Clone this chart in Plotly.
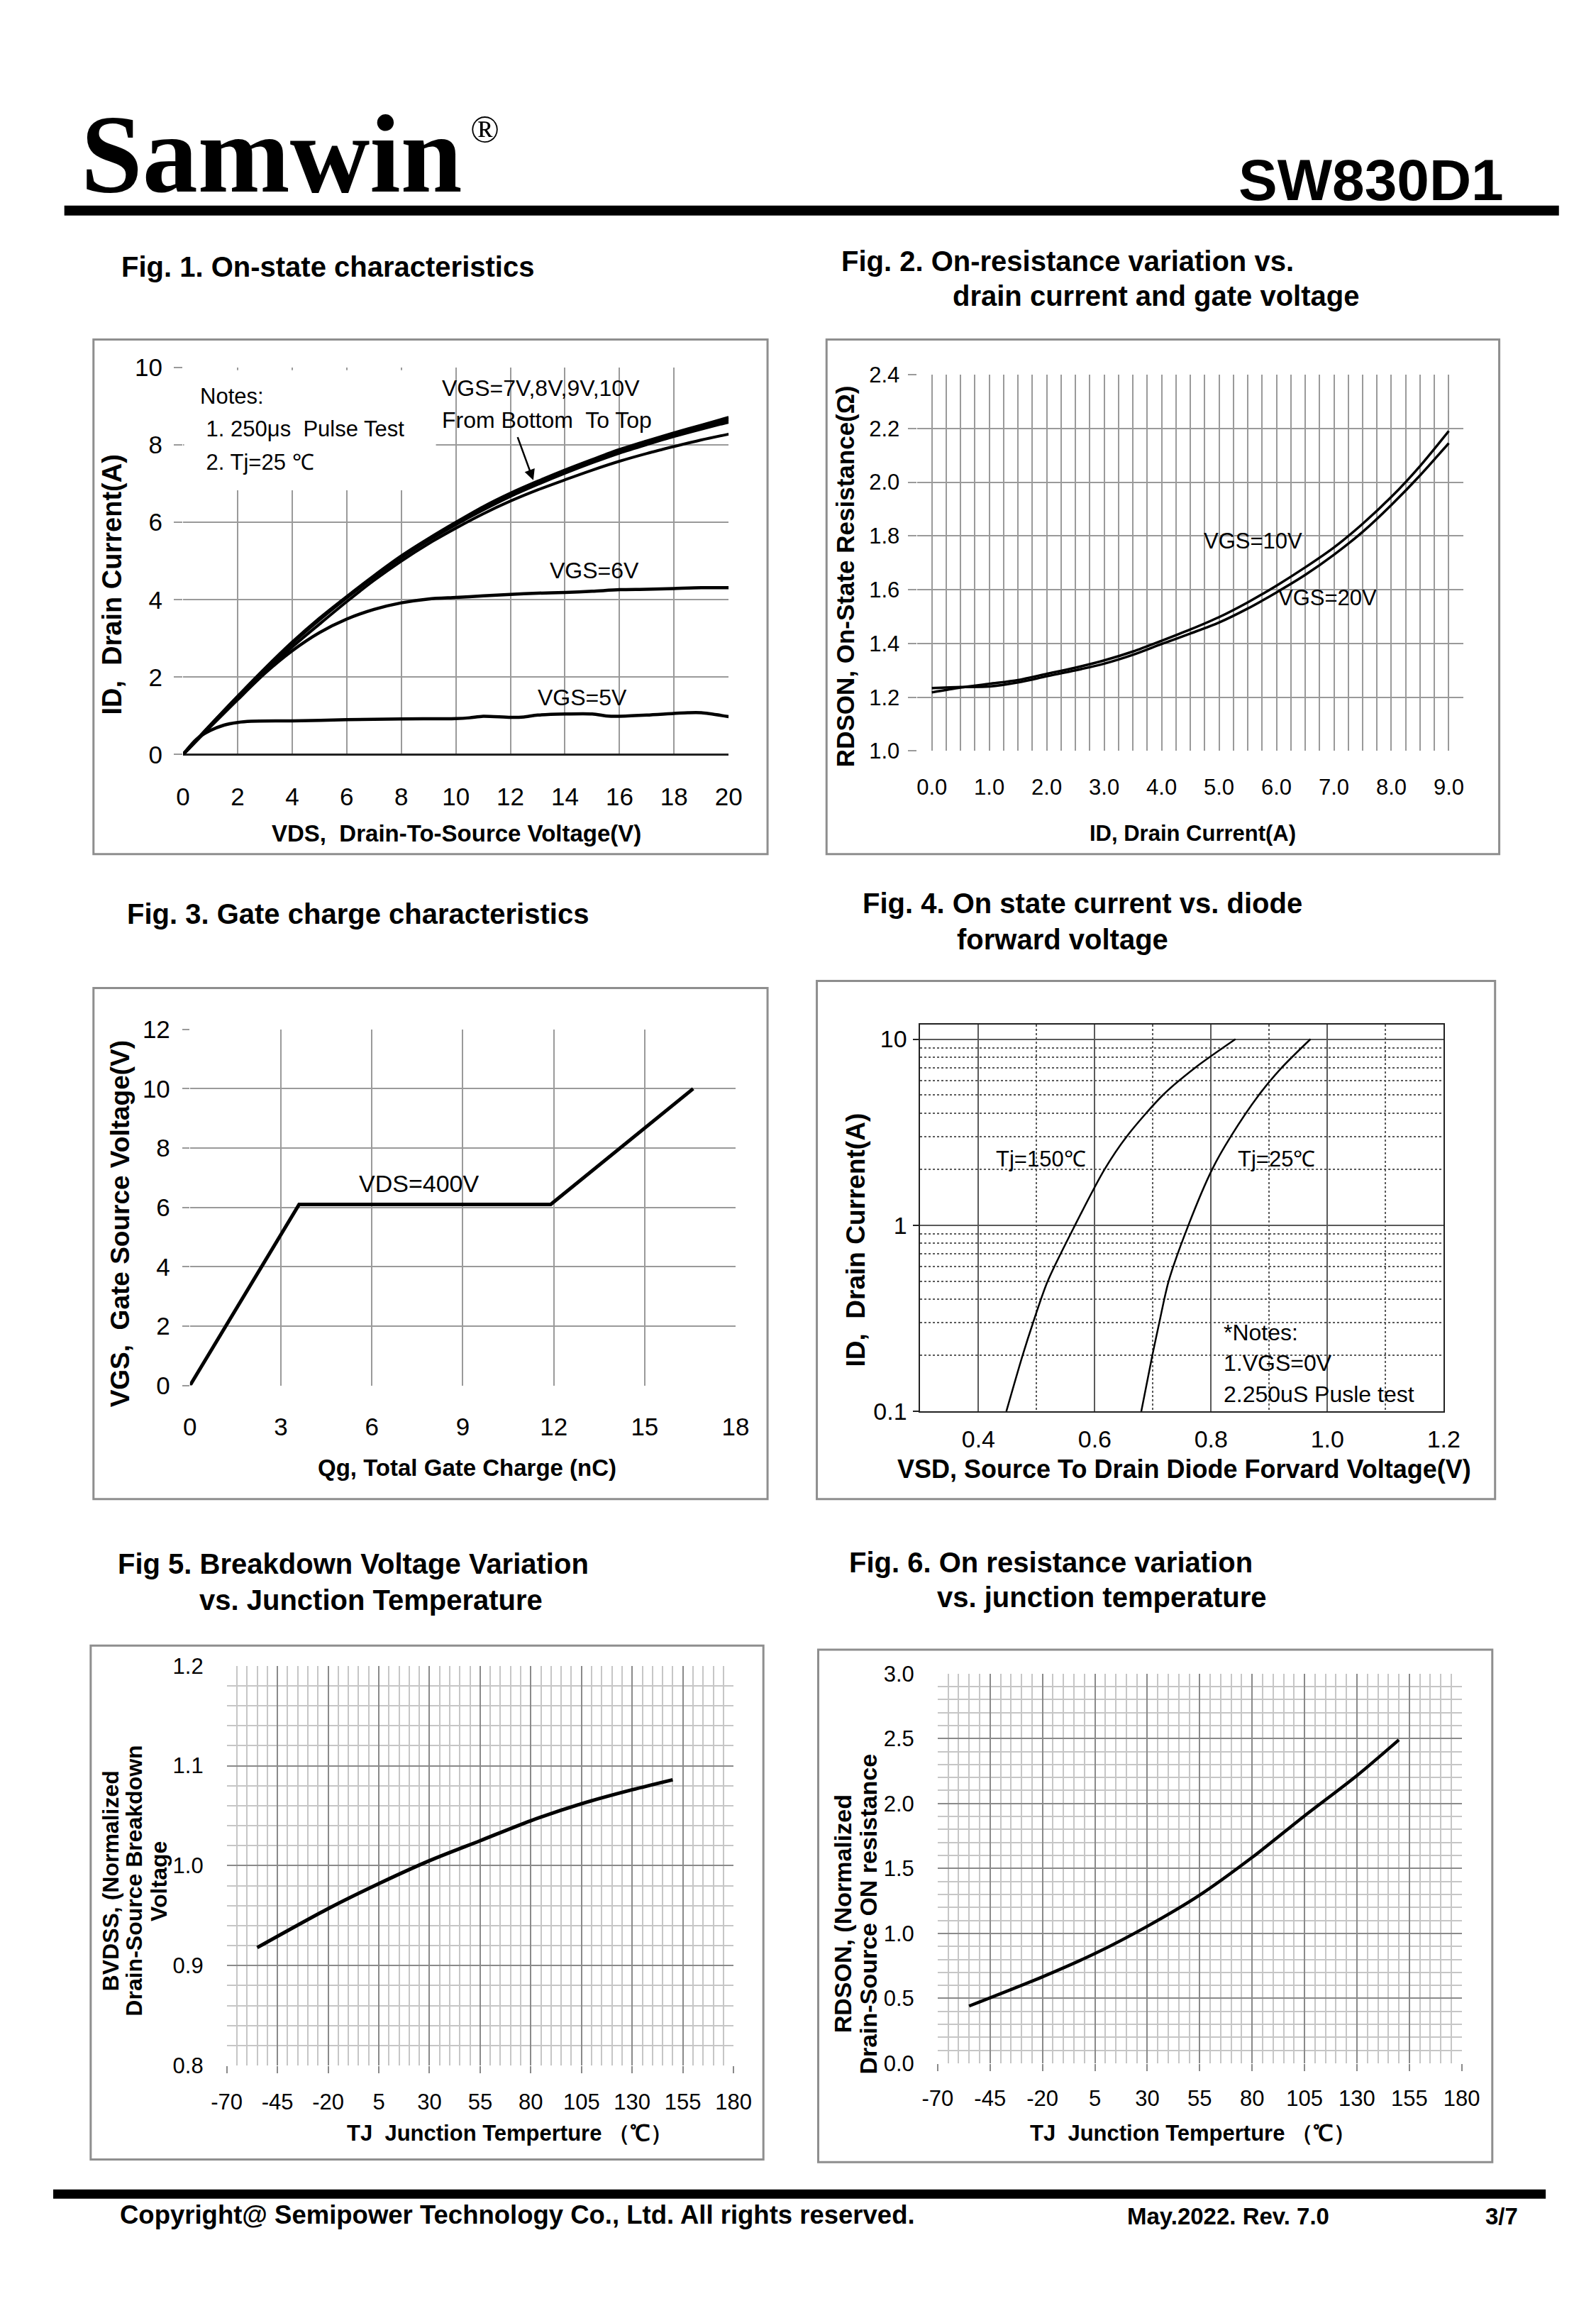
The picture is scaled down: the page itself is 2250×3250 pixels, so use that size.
import plotly.graph_objects as go

W, H = 2250, 3250
SANS = "Liberation Sans, Arial, sans-serif"
SERIF = "Liberation Serif, Times New Roman, serif"

# ---------------- data ----------------
# Fig 1: on-state characteristics
vds = [0, 1, 2, 3, 4, 5, 6, 7, 8, 9, 10, 11, 12, 13, 14, 15, 16, 17, 18, 19, 20]
id_vgs10 = [0, 0.76, 1.5, 2.22, 2.9, 3.52, 4.08, 4.62, 5.13, 5.58, 6.0, 6.4, 6.75, 7.06, 7.35, 7.62, 7.88, 8.1, 8.31, 8.51, 8.71]
id_vgs9 = [0, 0.76, 1.5, 2.21, 2.89, 3.5, 4.07, 4.6, 5.11, 5.56, 5.97, 6.36, 6.71, 7.02, 7.31, 7.58, 7.83, 8.05, 8.26, 8.46, 8.65]
id_vgs8 = [0, 0.75, 1.49, 2.2, 2.87, 3.48, 4.05, 4.58, 5.08, 5.53, 5.94, 6.32, 6.67, 6.98, 7.27, 7.54, 7.79, 8.01, 8.22, 8.41, 8.59]
id_vgs7 = [0, 0.74, 1.45, 2.14, 2.78, 3.37, 3.95, 4.5, 5.0, 5.45, 5.85, 6.22, 6.55, 6.84, 7.1, 7.35, 7.58, 7.78, 7.96, 8.13, 8.28]
id_vgs6 = [0, 0.72, 1.42, 2.1, 2.68, 3.15, 3.5, 3.75, 3.92, 4.02, 4.06, 4.1, 4.14, 4.17, 4.19, 4.22, 4.26, 4.27, 4.29, 4.31, 4.31]
vds_5 = [0, 0.5, 1, 1.5, 2, 2.5, 4, 6, 8, 10, 10.5, 11, 12, 12.5, 13, 15, 15.5, 16, 17, 18.5, 19, 20]
id_vgs5 = [0, 0.4, 0.62, 0.76, 0.83, 0.86, 0.87, 0.9, 0.92, 0.93, 0.95, 0.99, 0.96, 0.97, 1.02, 1.05, 1.0, 0.99, 1.02, 1.08, 1.08, 0.98]

# Fig 2: on-resistance vs drain current
id2 = [0, 0.5, 1, 1.5, 2, 2.5, 3, 3.5, 4, 4.5, 5, 5.5, 6, 6.5, 7, 7.5, 8, 8.5, 9]
rds_vgs10 = [1.218, 1.236, 1.25, 1.264, 1.287, 1.31, 1.337, 1.37, 1.41, 1.452, 1.498, 1.553, 1.615, 1.683, 1.757, 1.845, 1.945, 2.06, 2.19]
rds_vgs20 = [1.234, 1.238, 1.24, 1.255, 1.278, 1.3, 1.325, 1.358, 1.398, 1.437, 1.478, 1.53, 1.59, 1.655, 1.73, 1.815, 1.915, 2.025, 2.145]

# Fig 3: gate charge
qg = [0, 3.6, 11.9, 16.6]
vgs3 = [0, 6.1, 6.1, 10.0]

# Fig 4: body diode forward characteristics
isd_levels = [0.1, 0.2, 0.3, 0.5, 1, 2, 3, 5, 7, 10]
vsd_150 = [0.448, 0.476, 0.494, 0.519, 0.566, 0.617, 0.655, 0.717, 0.772, 0.842]
vsd_25 = [0.68, 0.699, 0.711, 0.727, 0.761, 0.802, 0.834, 0.882, 0.921, 0.971]

# Fig 5: normalized breakdown voltage vs Tj
tj5 = [-55, -20, 5, 30, 55, 80, 105, 130, 150]
bvdss = [0.918, 0.957, 0.982, 1.005, 1.025, 1.045, 1.062, 1.076, 1.086]

# Fig 6: normalized on resistance vs Tj
tj6 = [-55, -20, 5, 30, 55, 80, 105, 130, 150]
rdson_n = [0.441, 0.666, 0.845, 1.055, 1.295, 1.585, 1.905, 2.215, 2.49]

# tick labels
fig4_xtickvals = [0.4, 0.6, 0.8, 1.0, 1.2]
fig4_xticktext = ["0.4", "0.6", "0.8", "1.0", "1.2"]
fig4_ytickvals = [0.1, 1, 10]
fig4_yticktext = ["0.1", "1", "10"]
tj_tickvals = [-70, -45, -20, 5, 30, 55, 80, 105, 130, 155, 180]
tj_ticktext = ["-70", "-45", "-20", "5", "30", "55", "80", "105", "130", "155", "180"]


def pxx(x):
    return x / W


def pyy(y):
    return 1 - y / H


fig = go.Figure()

BLACK = "#000000"
GRID = "#9a9a9a"


def line(xs, ys, ax, width=4.5, shape="spline"):
    fig.add_trace(go.Scatter(x=xs, y=ys, mode="lines", xaxis="x" + ax, yaxis="y" + ax,
                             line=dict(color=BLACK, width=width, shape=shape, smoothing=0.8),
                             showlegend=False, hoverinfo="skip"))


# Fig 1
line(vds, id_vgs7, "", 4)
line(vds, id_vgs8, "", 4)
line(vds, id_vgs9, "", 4)
line(vds, id_vgs10, "", 4.5)
line(vds, id_vgs6, "", 4.5)
line(vds_5, id_vgs5, "", 4.5)
# Fig 2
line(id2, rds_vgs10, "2", 3.5)
line(id2, rds_vgs20, "2", 3.5)
# Fig 3
line(qg, vgs3, "3", 5, "linear")
# Fig 4
line(vsd_150, isd_levels, "4", 2.5)
line(vsd_25, isd_levels, "4", 2.5)
# Fig 5
line(tj5, bvdss, "5", 5)
# Fig 6
line(tj6, rdson_n, "6", 4.5)


def dom_x(a, b):
    return [pxx(a), pxx(b)]


def dom_y(top, bottom):
    return [pyy(bottom), pyy(top)]


def tf(size):
    return dict(family=SANS, size=size, color=BLACK)


base = dict(showline=False, zeroline=False, showgrid=True, gridcolor=GRID, gridwidth=2, fixedrange=True)

layout = dict(
    width=W, height=H, margin=dict(l=0, r=0, t=0, b=0),
    paper_bgcolor="white", plot_bgcolor="white", showlegend=False,
    # Fig 1
    xaxis=dict(base, domain=dom_x(233, 1019), anchor="y", range=[0, 20], tick0=0, dtick=2,
               ticks="", ticklabelstandoff=36, tickfont=tf(35)),
    yaxis=dict(base, domain=dom_y(496, 1048), anchor="x", range=[0, 10], tick0=0, dtick=2,
               ticks="outside", ticklen=12, tickcolor=GRID, tickwidth=2, ticklabelstandoff=9,
               tickfont=tf(35), zeroline=True, zerolinecolor="#222", zerolinewidth=2.5),
    # Fig 2
    xaxis2=dict(base, domain=dom_x(1291, 2077), anchor="y2", range=[-0.25, 9.25], tick0=0, dtick=1,
                tickformat=".1f", ticks="", ticklabelstandoff=30, tickfont=tf(31),
                minor=dict(tick0=0, dtick=0.25, showgrid=True, gridcolor=GRID, gridwidth=2)),
    yaxis2=dict(base, domain=dom_y(506, 1043), anchor="x2", range=[1.0, 2.4], tick0=1.0, dtick=0.2,
                tickformat=".1f", ticks="outside", ticklen=12, tickcolor=GRID, tickwidth=2,
                ticklabelstandoff=6, tickfont=tf(31)),
    # Fig 3
    xaxis3=dict(base, domain=dom_x(243, 1029), anchor="y3", range=[0, 18], tick0=0, dtick=3,
                ticks="", ticklabelstandoff=34, tickfont=tf(35)),
    yaxis3=dict(base, domain=dom_y(1440, 1948), anchor="x3", range=[0, 12], tick0=0, dtick=2,
                ticks="outside", ticklen=10, tickcolor=GRID, tickwidth=2, ticklabelstandoff=10,
                tickfont=tf(35)),
    # Fig 4
    xaxis4=dict(base, domain=dom_x(1295, 2049), anchor="y4", range=[0.3, 1.2],
                tickvals=fig4_xtickvals, ticktext=fig4_xticktext, gridcolor="#5a5a5a", gridwidth=1.5,
                showline=True, mirror=True, linecolor="#222", linewidth=2, ticks="",
                ticklabelstandoff=8, tickfont=tf(34),
                minor=dict(tickvals=[0.5, 0.7, 0.9, 1.1], showgrid=True, gridcolor="#5a5a5a",
                           gridwidth=1.5, griddash="dot")),
    yaxis4=dict(base, domain=dom_y(1433, 1985), anchor="x4", type="log", range=[-1, 1.079],
                tickvals=fig4_ytickvals, ticktext=fig4_yticktext, gridcolor="#5a5a5a", gridwidth=1.5,
                showline=True, mirror=True, linecolor="#222", linewidth=2,
                ticks="outside", ticklen=8, tickcolor="#222", tickwidth=2, ticklabelstandoff=2,
                tickfont=tf(34),
                minor=dict(tickvals=[0.2, 0.3, 0.4, 0.5, 0.6, 0.7, 0.8, 0.9, 2, 3, 4, 5, 6, 7, 8, 9],
                           showgrid=True, gridcolor="#5a5a5a", gridwidth=1.5, griddash="dot")),
    # Fig 5
    xaxis5=dict(base, domain=dom_x(296, 1026), anchor="y5", range=[-70, 180],
                tickvals=tj_tickvals, ticktext=tj_ticktext,
                gridcolor="#8a8a8a", ticks="outside", ticklen=10, tickcolor="#8a8a8a", tickwidth=2,
                ticklabelstandoff=14, tickfont=tf(31),
                minor=dict(tick0=-70, dtick=5, showgrid=True, gridcolor="#c6c6c6", gridwidth=2)),
    yaxis5=dict(base, domain=dom_y(2348, 2918), anchor="x5", range=[0.8, 1.2], tick0=0.8, dtick=0.1,
                tickformat=".1f", gridcolor="#8a8a8a", ticks="", ticklabelstandoff=32, tickfont=tf(31),
                minor=dict(tick0=0.8, dtick=0.02, showgrid=True, gridcolor="#c6c6c6", gridwidth=2)),
    # Fig 6
    xaxis6=dict(base, domain=dom_x(1320, 2075), anchor="y6", range=[-70, 180],
                tickvals=tj_tickvals, ticktext=tj_ticktext,
                gridcolor="#8a8a8a", ticks="outside", ticklen=10, tickcolor="#8a8a8a", tickwidth=2,
                ticklabelstandoff=12, tickfont=tf(31),
                minor=dict(tick0=-70, dtick=5, showgrid=True, gridcolor="#c6c6c6", gridwidth=2)),
    yaxis6=dict(base, domain=dom_y(2359, 2915), anchor="x6", range=[0, 3.0], tick0=0, dtick=0.5,
                tickformat=".1f", gridcolor="#8a8a8a", ticks="", ticklabelstandoff=32, tickfont=tf(31),
                minor=dict(tick0=0, dtick=0.1, showgrid=True, gridcolor="#c6c6c6", gridwidth=2)),
)
fig.update_layout(**layout)

shapes = []
# header / footer bars
shapes.append(dict(type="rect", xref="paper", yref="paper", x0=pxx(62), x1=pxx(2215), y0=pyy(279), y1=pyy(265),
                   fillcolor="black", line=dict(width=0)))
shapes.append(dict(type="rect", xref="paper", yref="paper", x0=pxx(46), x1=pxx(2196), y0=pyy(3108), y1=pyy(3095),
                   fillcolor="black", line=dict(width=0)))
# panel boxes
boxes = [(104, 456, 1075, 1190), (1160, 456, 2129, 1190), (104, 1381, 1075, 2110),
         (1146, 1371, 2123, 2110), (100, 2319, 1069, 3052), (1148, 2325, 2119, 3056)]
for (x0, y0, x1, y1) in boxes:
    shapes.append(dict(type="rect", xref="paper", yref="paper", x0=pxx(x0), x1=pxx(x1), y0=pyy(y1), y1=pyy(y0),
                       fillcolor="rgba(0,0,0,0)", line=dict(color="#8e8e8e", width=3)))
# white notes box in fig 1
shapes.append(dict(type="rect", xref="x", yref="y", x0=0.04, x1=9.27, y0=6.83, y1=9.93,
                   fillcolor="white", line=dict(width=0), layer="between"))
fig.update_layout(shapes=shapes)

ann = []


def text(x, y, s, size, family=SANS, bold=False, xanchor="left", yanchor="middle", angle=0,
         xref="paper", yref="paper", color=BLACK):
    if bold:
        s = "<b>" + s + "</b>"
    ann.append(dict(x=x, y=y, xref=xref, yref=yref, text=s, showarrow=False, xanchor=xanchor,
                    yanchor=yanchor, textangle=angle, font=dict(family=family, size=size, color=color)))


# header
text(pxx(84), pyy(192), "Samwin", 156, family=SERIF, bold=True)
text(pxx(645), pyy(156), "®", 54, family=SERIF)
text(pxx(2138), pyy(228), "SW830D1", 82, bold=True, xanchor="right")

# figure titles
text(pxx(142), pyy(352), "Fig. 1. On-state characteristics", 40, bold=True)
text(pxx(1179), pyy(344), "Fig. 2. On-resistance variation vs.", 40, bold=True)
text(pxx(1340), pyy(394), "drain current and gate voltage", 40, bold=True)
text(pxx(150), pyy(1275), "Fig. 3. Gate charge characteristics", 40, bold=True)
text(pxx(1210), pyy(1260), "Fig. 4. On state current vs. diode", 40, bold=True)
text(pxx(1346), pyy(1312), "forward voltage", 40, bold=True)
text(pxx(137), pyy(2202), "Fig 5. Breakdown Voltage Variation", 40, bold=True)
text(pxx(254), pyy(2254), "vs. Junction Temperature", 40, bold=True)
text(pxx(1190), pyy(2200), "Fig. 6. On resistance variation", 40, bold=True)
text(pxx(1317), pyy(2250), "vs. junction temperature", 40, bold=True)

# axis titles
text(pxx(131), pyy(806), "ID,  Drain Current(A)", 38, bold=True, xanchor="center", angle=-90)
text(pxx(627), pyy(1160), "VDS,  Drain-To-Source Voltage(V)", 33, bold=True, xanchor="center")
text(pxx(1187), pyy(794), "RDSON, On-State Resistance(Ω)", 35, bold=True, xanchor="center", angle=-90)
text(pxx(1687), pyy(1160), "ID, Drain Current(A)", 31, bold=True, xanchor="center")
text(pxx(142), pyy(1717), "VGS,  Gate Source Voltage(V)", 37, bold=True, xanchor="center", angle=-90)
text(pxx(642), pyy(2065), "Qg, Total Gate Charge (nC)", 33, bold=True, xanchor="center")
text(pxx(1202), pyy(1740), "ID,  Drain Current(A)", 37, bold=True, xanchor="center", angle=-90)
text(pxx(1675), pyy(2067), "VSD, Source To Drain Diode Forvard Voltage(V)", 36, bold=True, xanchor="center")
text(pxx(129), pyy(2655), "BVDSS, (Normalized", 32, bold=True, xanchor="center", angle=-90)
text(pxx(163), pyy(2655), "Drain-Source Breakdown", 32, bold=True, xanchor="center", angle=-90)
text(pxx(198), pyy(2655), "Voltage", 32, bold=True, xanchor="center", angle=-90)
text(pxx(704), pyy(3015), "TJ  Junction Temperture （℃）", 31, bold=True, xanchor="center")
text(pxx(1183), pyy(2702), "RDSON, (Normalized", 34, bold=True, xanchor="center", angle=-90)
text(pxx(1220), pyy(2702), "Drain-Source ON resistance", 34, bold=True, xanchor="center", angle=-90)
text(pxx(1687), pyy(3015), "TJ  Junction Temperture （℃）", 31, bold=True, xanchor="center")

# in-plot labels
text(0.58, 9.25, "Notes:", 31, xref="x", yref="y")
text(0.58, 8.42, " 1. 250μs  Pulse Test", 31, xref="x", yref="y")
text(0.58, 7.55, " 2. Tj=25 ℃", 31, xref="x", yref="y")
text(9.44, 9.47, "VGS=7V,8V,9V,10V", 32, xref="x", yref="y")
text(9.44, 8.64, "From Bottom  To Top", 32, xref="x", yref="y")
text(13.4, 4.75, "VGS=6V", 32, xref="x", yref="y")
text(12.95, 1.47, "VGS=5V", 32, xref="x", yref="y")
text(4.71, 1.78, "VGS=10V", 31, xref="x2", yref="y2")
text(6.0, 1.57, "VGS=20V", 31, xref="x2", yref="y2")
text(7.54, 6.81, "VDS=400V", 34, xanchor="center", xref="x3", yref="y3")
text(0.428, 0.357, "Tj=150℃", 31, xref="x4", yref="y4")
text(0.844, 0.357, "Tj=25℃", 31, xref="x4", yref="y4")
text(0.819, -0.576, "*Notes:", 32, xref="x4", yref="y4")
text(0.819, -0.741, "1.VGS=0V", 32, xref="x4", yref="y4")
text(0.819, -0.906, "2.250uS Pusle test", 32, xref="x4", yref="y4")

# footer
text(pxx(140), pyy(3131), "Copyright@ Semipower Technology Co., Ltd. All rights reserved.", 36.5, bold=True)
text(pxx(1591), pyy(3133), "May.2022. Rev. 7.0", 33, bold=True)
text(pxx(2158), pyy(3133), "3/7", 33, bold=True, xanchor="right")

# arrow in fig 1
ann.append(dict(x=12.84, y=7.09, xref="x", yref="y", ax=12.25, ay=8.23, axref="x", ayref="y",
                text="", showarrow=True, arrowhead=2, arrowsize=1.2, arrowwidth=2.5, arrowcolor=BLACK))

fig.update_layout(annotations=ann)
fig.write_html("out.html")
